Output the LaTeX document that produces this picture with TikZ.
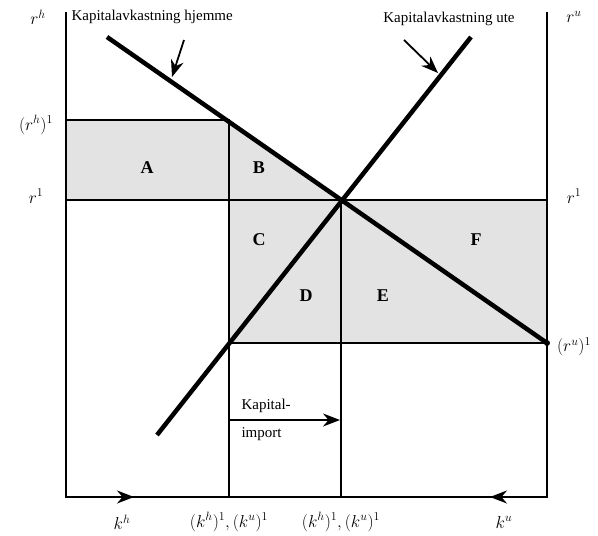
\documentclass[tikz,border=0pt]{standalone}
\usepackage{fontspec}
\setmainfont{Liberation Serif}
\usetikzlibrary{arrows.meta}
\begin{document}
\begin{tikzpicture}[x=1pt,y=-1pt,
  axis/.style={line width=1.8pt},
  curve/.style={line width=4.5pt},
  guide/.style={line width=1.8pt},
  shade/.style={fill=gray!22},
  area/.style={font=\fontsize{18}{18}\selectfont\bfseries},
  lab/.style={font=\fontsize{15}{17}\selectfont},
  mlab/.style={font=\fontsize{18}{20}\selectfont},
  arr/.style={-{Stealth[length=17pt,width=13pt]},line width=1.8pt}]
\useasboundingbox (0,0) rectangle (598,536);
% key points
\coordinate (LT) at (66,12);
\coordinate (LB) at (66,497);
\coordinate (RT) at (547,12);
\coordinate (RB) at (547,497);
\coordinate (A1) at (66,120);
\coordinate (A2) at (229,120);
\coordinate (Y1) at (66,200);
\coordinate (Q0) at (229,200);
\coordinate (X) at (341,200);
\coordinate (Y2) at (547,200);
\coordinate (Q1) at (229,343);
\coordinate (Q2) at (547,343);
\coordinate (QB) at (229,497);
\coordinate (XB) at (341,497);
\coordinate (H0) at (107,37);
\coordinate (U0) at (157,435);
\coordinate (U1) at (471,37);
\coordinate (KH) at (134,497);
\coordinate (KU) at (490,497);
% shading
\fill[shade] (A1) rectangle (Q0);
\fill[shade] (A2) -- (X) -- (Q0) -- cycle;
\fill[shade] (Q0) rectangle (Q2);
% axes and guides
\draw[axis] (LT) -- (LB) -- (RB) -- (RT);
\draw[arr] (LB) -- (KH);
\draw[arr] (RB) -- (KU);
\draw[guide] (A1) -- (A2) -- (QB);
\draw[guide] (Y1) -- (Y2);
\draw[guide] (Q1) -- (Q2);
\draw[guide] (X) -- (XB);
% curves
\draw[curve] (H0) -- (Q2);
\draw[curve] (U0) -- (U1);
\fill (Q2) circle (3pt);
% area labels
\node[area] (lA) at (147,168) {A};
\node[area] (lB) at (259,168) {B};
\node[area] (lC) at (259,240) {C};
\node[area] (lD) at (306,296) {D};
\node[area] (lE) at (383,296) {E};
\node[area] (lF) at (476,240) {F};
% curve labels
\node[lab, anchor=west] (th) at (68,17) {Kapitalavkastning hjemme};
\coordinate (th1) at (184,40);
\coordinate (th2) at (172,77);
\draw[arr] (th1) -- (th2);
\node[lab] (tu) at (449,19) {Kapitalavkastning ute};
\coordinate (tu1) at (404,40);
\coordinate (tu2) at (438,73);
\draw[arr] (tu1) -- (tu2);
% import
\coordinate (I1) at (229,420);
\coordinate (I2) at (340,420);
\draw[arr] (I1) -- (I2);
\node[lab, anchor=west] (imp1) at (238,406) {Kapital-};
\node[lab, anchor=west] (imp2) at (238,434) {import};
% axis labels
\node[mlab] (rh) at (38,17) {$r^h$};
\node[mlab] (rh1) at (36,125) {$(r^h)^1$};
\node[mlab] (r1l) at (36,196) {$r^1$};
\node[mlab] (ru) at (574,17) {$r^u$};
\node[mlab] (r1r) at (574,196) {$r^1$};
\node[mlab] (ru1) at (574,347) {$(r^u)^1$};
\node[mlab] (kh) at (122,522) {$k^h$};
\node[mlab] (k0) at (229,522) {$(k^h)^1, (k^u)^1$};
\node[mlab] (k1) at (341,522) {$(k^h)^1, (k^u)^1$};
\node[mlab] (ku) at (504,522) {$k^u$};
\end{tikzpicture}
\end{document}
